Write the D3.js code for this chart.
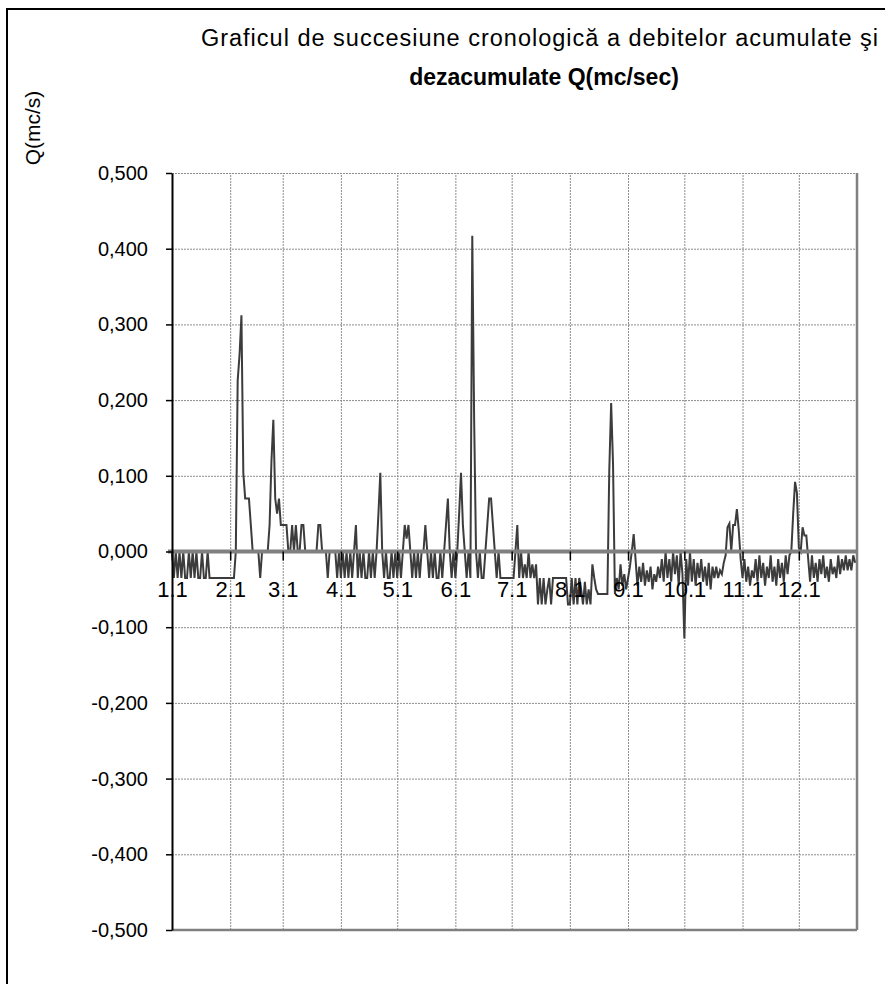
<!DOCTYPE html>
<html>
<head>
<meta charset="utf-8">
<script src="https://cdn.jsdelivr.net/npm/d3@7"></script>
<style>
  body { margin: 0; background: #fff; }
  text { font-family: Arial, "Liberation Sans", sans-serif; fill: #000; }
</style>
</head>
<body>
<div id="chart"></div>
<script>
// Debite acumulate / dezacumulate - grafic cronologic

// etichete axa X (inceput de luna)
var monthLabels = ["1.1", "2.1", "3.1", "4.1", "5.1", "6.1", "7.1", "8.1", "9.1", "10.1", "11.1", "12.1"];

// valori axa Y
var yTicks = [0.5, 0.4, 0.3, 0.2, 0.1, 0, -0.1, -0.2, -0.3, -0.4, -0.5];

// debite zilnice Q (mc/s)
var qIan = [0, -0.035, 0, -0.035, 0, -0.035, 0, -0.035, -0.035, 0, -0.035, 0, -0.035, 0, -0.035, -0.035, 0, -0.035, -0.035, 0, -0.035,
  -0.035, -0.035, -0.035, -0.035, -0.035, -0.035, -0.035, -0.035, -0.035, -0.035];
var qFeb = [-0.035, -0.035, -0.035, 0, 0.226, 0.26, 0.312, 0.104, 0.07, 0.07, 0.07, 0.035, 0, 0, 0, 0, -0.035, 0, 0, 0, 0,
  0.035, 0.12, 0.174, 0.07, 0.05, 0.07, 0.035];
var qMar = [0.035, 0.035, 0.035, 0, 0, 0.035, 0, 0.035, 0, 0, 0.035, 0.035, 0, 0, 0, 0, 0, 0, 0, 0.035, 0.035, 0, 0, 0,
  -0.035, 0, 0, 0, 0, -0.035, 0];
var qApr = [-0.035, 0, -0.035, 0, -0.035, 0, -0.035, 0, 0.035, -0.035, 0, -0.035, 0, -0.035, -0.035, 0, -0.035, 0, -0.035, 0,
  0.05, 0.104, 0, -0.035, 0, -0.035, -0.035, 0, -0.035, 0];
var qMai = [-0.035, 0, -0.035, 0, 0.035, 0.017, 0.035, 0, -0.035, 0, -0.035, 0, -0.035, 0, 0, 0.035, 0, -0.035, 0, -0.035, 0,
  -0.035, -0.035, 0, -0.035, 0, 0.035, 0.07, 0, -0.035, 0];
var qIun = [-0.035, 0, 0.05, 0.104, 0.035, 0, -0.035, 0, -0.035, 0.417, 0.174, 0, -0.035, 0, -0.035, -0.035, 0, 0.035, 0.07,
  0.07, 0.035, 0, -0.035, 0, -0.035, -0.035, -0.035, -0.035, -0.035, -0.035];
var qIul = [-0.035, -0.035, 0, 0.035, -0.035, 0, -0.035, -0.017, -0.035, 0, -0.035, -0.017, -0.035, -0.017, -0.07, -0.035,
  -0.07, -0.035, -0.07, -0.05, -0.035, -0.07, -0.035, -0.035, -0.035, -0.035, -0.035, -0.035, -0.035, -0.035, -0.07];
var qAug = [-0.07, -0.035, -0.07, -0.035, -0.07, -0.035, -0.05, -0.07, -0.04, -0.07, -0.05, -0.07, -0.017, -0.035, -0.05,
  -0.056, -0.056, -0.056, -0.056, -0.056, -0.056, 0.107, 0.196, 0.116, -0.056, -0.035, -0.05, -0.017, -0.045, -0.03, -0.05];
var qSep = [-0.035, -0.02, 0, 0.023, -0.01, -0.045, -0.02, -0.04, -0.015, -0.045, -0.025, -0.04, -0.02, -0.05, -0.03, -0.04,
  -0.02, -0.035, -0.01, -0.04, 0, -0.035, -0.01, -0.04, 0, -0.03, -0.005, -0.045, 0, -0.03];
var qOct = [-0.115, -0.01, -0.045, 0, -0.04, -0.01, -0.045, -0.015, -0.035, -0.01, -0.04, -0.02, -0.045, -0.015, -0.05, -0.02,
  -0.035, -0.02, -0.035, -0.025, -0.03, -0.015, -0.005, 0.032, 0.037, 0, 0.035, 0.035, 0.056, 0.028, -0.01];
var qNoi = [-0.035, -0.01, -0.04, -0.02, -0.045, -0.025, -0.035, -0.01, -0.04, -0.005, -0.035, -0.015, -0.045, -0.02, -0.035,
  -0.005, -0.04, -0.02, -0.045, -0.01, -0.035, -0.015, -0.04, -0.005, -0.03, -0.005, 0, 0.05, 0.092, 0.077];
var qDec = [0.005, 0, 0.032, 0.021, 0.021, -0.01, -0.04, -0.005, -0.035, -0.015, -0.04, -0.01, -0.03, -0.005, -0.035, -0.02,
  -0.04, -0.01, -0.03, -0.02, -0.035, -0.005, -0.03, -0.01, -0.025, -0.005, -0.025, -0.01, -0.025, -0.005, -0.015];

var svgWidth = 885;
var svgHeight = 984;

// zona de desenare
var margin = {top: 173, right: 28, bottom: 54, left: 172};
var width = svgWidth - margin.left - margin.right;   // 685
var height = svgHeight - margin.top - margin.bottom; // 757

var svg = d3.select("#chart")
  .append("svg")
  .attr("width", svgWidth)
  .attr("height", svgHeight);

// chenarul graficului
svg.append("rect")
  .attr("x", 7)
  .attr("y", 9)
  .attr("width", 950)
  .attr("height", 1050)
  .attr("fill", "none")
  .attr("stroke", "#000")
  .attr("stroke-width", 2);

// titlu
svg.append("text")
  .attr("x", 540)
  .attr("y", 46)
  .attr("text-anchor", "middle")
  .style("font-size", "23.5px")
  .style("letter-spacing", "1px")
  .text("Graficul de succesiune cronologică a debitelor acumulate şi");

svg.append("text")
  .attr("x", 544)
  .attr("y", 85)
  .attr("text-anchor", "middle")
  .style("font-size", "23px")
  .style("font-weight", "bold")
  .text("dezacumulate Q(mc/sec)");

// titlu axa Y
svg.append("text")
  .attr("transform", "translate(40, 128) rotate(-90)")
  .attr("text-anchor", "middle")
  .style("font-size", "21px")
  .text("Q(mc/s)");

var chartGroup = svg.append("g")
  .attr("transform", `translate(${margin.left}, ${margin.top})`);

// date zilnice
var allQ = [].concat(qIan, qFeb, qMar, qApr, qMai, qIun, qIul, qAug, qSep, qOct, qNoi, qDec);
var startDate = new Date(2009, 0, 1);
var endDate = new Date(2010, 0, 1);
var data = allQ.map(function(q, i) {
  return {date: d3.timeDay.offset(startDate, i), q: q};
});
var months = d3.timeMonth.range(startDate, endDate);

var xScale = d3.scaleTime().domain([startDate, endDate]).range([0, width]);
var yScale = d3.scaleLinear().domain([-0.5, 0.5]).range([height, 0]);

var ro = d3.formatLocale({decimal: ",", thousands: ".", grouping: [3], currency: ["", " lei"], minus: "-"});
var fmt = ro.format(".3f");

// grila orizontala
chartGroup.append("g")
  .attr("class", "grid")
  .call(d3.axisLeft(yScale).tickValues(yTicks).tickSize(-width).tickFormat(""))
  .call(g => g.select(".domain").remove());

// grila verticala
chartGroup.append("g")
  .attr("class", "grid")
  .attr("transform", `translate(0, ${height})`)
  .call(d3.axisBottom(xScale).tickValues(months.slice(1)).tickSize(height).tickSizeOuter(0).tickFormat(""))
  .call(g => g.select(".domain").remove())
  .call(g => g.selectAll(".tick line").attr("y2", -height));

chartGroup.selectAll(".grid .tick line")
  .attr("stroke", "#8c8c8c")
  .attr("stroke-width", 1)
  .attr("stroke-dasharray", "2,1");

// chenar zona (dreapta si jos)
chartGroup.append("line")
  .attr("x1", width).attr("x2", width)
  .attr("y1", 0).attr("y2", height)
  .attr("stroke", "#808080")
  .attr("stroke-width", 2.5);
chartGroup.append("line")
  .attr("x1", 0).attr("x2", width)
  .attr("y1", height).attr("y2", height)
  .attr("stroke", "#808080")
  .attr("stroke-width", 2.5);

// seria
var line = d3.line()
  .x(d => xScale(d.date))
  .y(d => yScale(d.q));

chartGroup.append("path")
  .datum(data)
  .attr("fill", "none")
  .attr("stroke", "#3c3c3c")
  .attr("stroke-width", 2)
  .attr("d", line);

// axa X pe linia zero
var xAxis = chartGroup.append("g")
  .attr("transform", `translate(0, ${yScale(0)})`)
  .call(d3.axisBottom(xScale)
    .tickValues(months)
    .tickSize(9)
    .tickSizeOuter(0)
    .tickPadding(21)
    .tickFormat((d, i) => monthLabels[i]));
xAxis.select(".domain")
  .attr("d", `M-4,0H${width}`)
  .attr("stroke", "#808080")
  .attr("stroke-width", 4);
xAxis.selectAll(".tick line")
  .attr("stroke", "#000")
  .attr("stroke-width", 1.5);
xAxis.selectAll("text")
  .style("font-size", "22px");

// axa Y
var yAxis = chartGroup.append("g")
  .call(d3.axisLeft(yScale)
    .tickValues(yTicks)
    .tickSize(6)
    .tickSizeOuter(0)
    .tickPadding(18)
    .tickFormat(fmt));
yAxis.select(".domain")
  .attr("stroke", "#000")
  .attr("stroke-width", 2);
yAxis.selectAll(".tick line")
  .attr("stroke", "#000")
  .attr("stroke-width", 1.5);
yAxis.selectAll("text")
  .style("font-size", "20px");
</script>
</body>
</html>
